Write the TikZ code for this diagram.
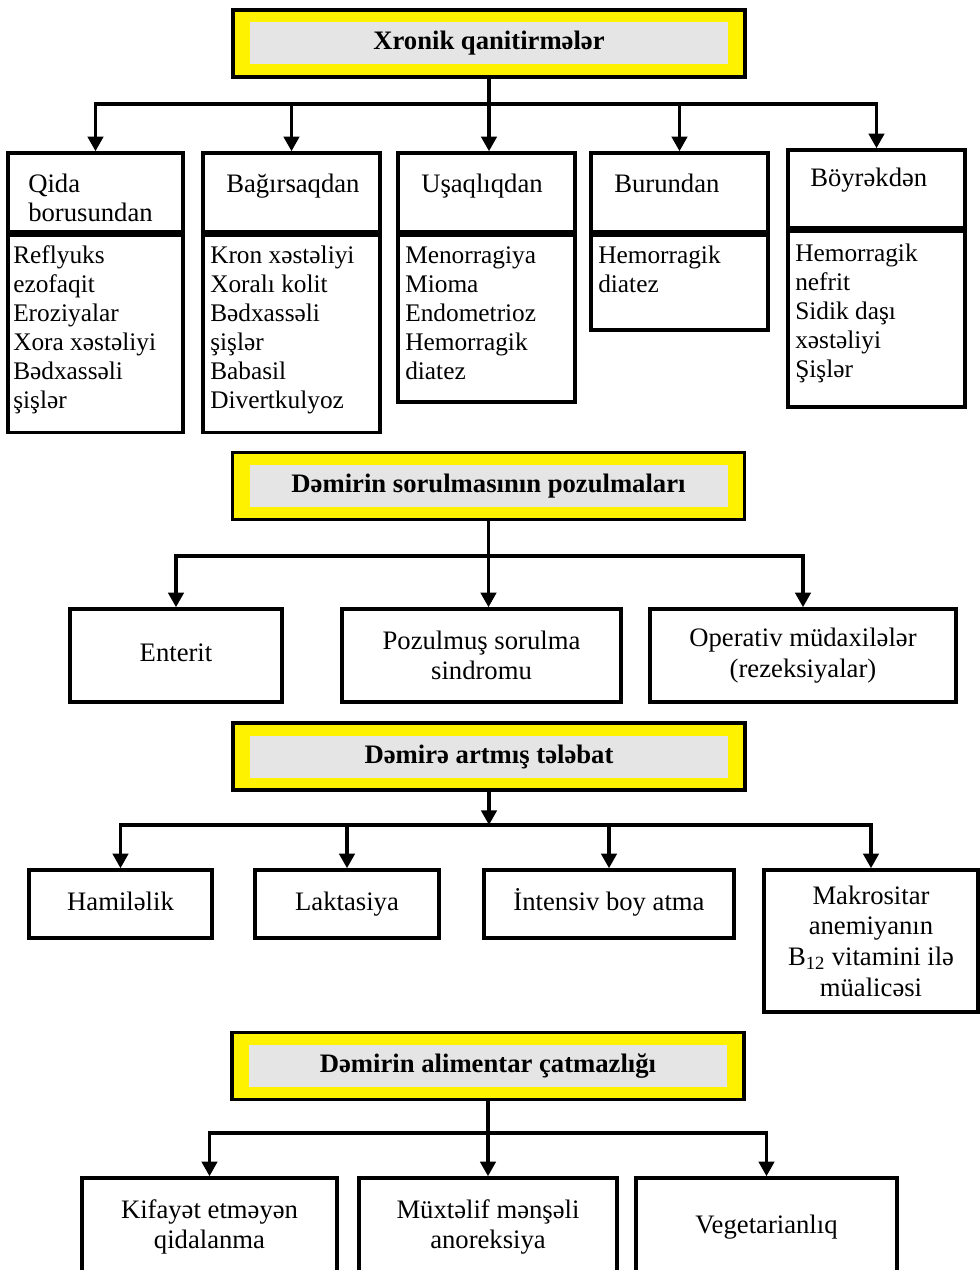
\documentclass[tikz,border=0pt]{standalone}
\usepackage{fontspec}
\setmainfont{Liberation Serif}
\usetikzlibrary{arrows.meta}
\newdimen\px \px=0.75pt
\newcommand{\headfont}{\fontsize{20}{21.75}\selectfont}
\newcommand{\listfont}{\fontsize{19}{21.75}\selectfont}
\newcommand{\boxfont}{\fontsize{20}{23}\selectfont}

\begin{document}
\begin{tikzpicture}[x=0.75pt, y=-0.75pt,
		frame_style/.style={draw=black, line width=3.5\px, fill=yellow, minimum width=512\px, minimum height=67\px, inner sep=0pt},
		title_style/.style={fill=black!10, minimum width=478\px, minimum height=42\px, inner sep=0pt, font=\boxfont\bfseries},
		box_style/.style={draw=black, line width=3.5\px, inner sep=0pt, align=center, font=\boxfont},
		head_style/.style={anchor=north west, inner sep=0pt, align=left, font=\headfont},
		list_style/.style={anchor=north west, inner sep=0pt, align=left, font=\listfont},
		edge_style/.style={draw=black, line width=3.5\px, line cap=rect},
		arrow_style/.style={draw=black, line width=3.5\px, -{Triangle[length=11pt, width=11.5pt]}}]

		\clip (0,0) rectangle (980,1270);

		% Xronik qanitirmeler
		\node[frame_style] (h1) at (489,43.5) {};
		\node[title_style] (t1) at (h1) {Xronik qanitirmələr};

		\node[box_style, minimum width=175\px, minimum height=79\px] (c1h) at (95.5,192.5) {};
		\node[box_style, minimum width=175\px, minimum height=197\px] (c1l) at (95.5,334) {};
		\node[box_style, minimum width=177\px, minimum height=79\px] (c2h) at (291.5,192.5) {};
		\node[box_style, minimum width=177\px, minimum height=197\px] (c2l) at (291.5,334) {};
		\node[box_style, minimum width=177\px, minimum height=79\px] (c3h) at (486.5,192.5) {};
		\node[box_style, minimum width=177\px, minimum height=166.5\px] (c3l) at (486.5,318.75) {};
		\node[box_style, minimum width=177\px, minimum height=79\px] (c4h) at (679.5,192.5) {};
		\node[box_style, minimum width=177\px, minimum height=94.5\px] (c4l) at (679.5,282.75) {};
		\node[box_style, minimum width=177\px, minimum height=78\px] (c5h) at (876.5,189) {};
		\node[box_style, minimum width=177\px, minimum height=175.5\px] (c5l) at (876.5,319.25) {};

		\node[head_style] (q1) at (28,171.5) {\strut Qida\\borusundan};
		\node[head_style] (q2) at (226,171.5) {\strut Bağırsaqdan};
		\node[head_style] (q3) at (421,171.5) {\strut Uşaqlıqdan};
		\node[head_style] (q4) at (614,171.5) {\strut Burundan};
		\node[head_style] (q5) at (810,165.5) {\strut Böyrəkdən};

		\node[list_style] (r1) at (13,243) {\strut Reflyuks\\ezofaqit\\Eroziyalar\\Xora xəstəliyi\\Bədxassəli\\şişlər};
		\node[list_style] (r2) at (210,243) {\strut Kron xəstəliyi\\Xoralı kolit\\Bədxassəli\\şişlər\\Babasil\\Divertkulyoz};
		\node[list_style] (r3) at (405,243) {\strut Menorragiya\\Mioma\\Endometrioz\\Hemorragik\\diatez};
		\node[list_style] (r4) at (598,243) {\strut Hemorragik\\diatez};
		\node[list_style] (r5) at (795,241) {\strut Hemorragik\\nefrit\\Sidik daşı\\xəstəliyi\\Şişlər};

		\coordinate (j1) at (489,104);
		\draw[edge_style] (h1.south) -- (j1);
		\draw[edge_style] (c1h.north |- j1) -- (c5h.north |- j1);
		\draw[arrow_style] (c1h.north |- j1) -- (c1h.north);
		\draw[arrow_style] (c2h.north |- j1) -- (c2h.north);
		\draw[arrow_style] (j1) -- (j1 |- c3h.north);
		\draw[arrow_style] (c4h.north |- j1) -- (c4h.north);
		\draw[arrow_style] (c5h.north |- j1) -- (c5h.north);

		% Demirin sorulmasinin pozulmalari
		\node[frame_style] (h2) at (488.5,486) {};
		\node[title_style] (t2) at (h2) {Dəmirin sorulmasının pozulmaları};

		\node[box_style, minimum width=212\px, minimum height=93\px] (e1) at (176,655.5) {\strut Enterit};
		\node[box_style, minimum width=279\px, minimum height=93\px] (e2) at (481.5,655.5) {Pozulmuş sorulma\\sindromu};
		\node[box_style, minimum width=306\px, minimum height=93\px] (e3) at (803,655.5) {Operativ müdaxilələr\\(rezeksiyalar)};

		\coordinate (j2) at (488.5,556);
		\draw[edge_style] (e1.north |- j2) -- (e3.north |- j2);
		\draw[arrow_style] (h2.south) -- (h2.south |- e2.north);
		\draw[arrow_style] (e1.north |- j2) -- (e1.north);
		\draw[arrow_style] (e3.north |- j2) -- (e3.north);

		% Demire artmis telebat
		\node[frame_style] (h3) at (489,756.5) {};
		\node[title_style] (t3) at (h3) {Dəmirə artmış tələbat};

		\node[box_style, minimum width=183\px, minimum height=68\px] (d1) at (120.5,904) {\strut Hamiləlik};
		\node[box_style, minimum width=184\px, minimum height=68\px] (d2) at (347,904) {\strut Laktasiya};
		\node[box_style, minimum width=250\px, minimum height=68\px] (d3) at (609,904) {\strut İntensiv boy atma};
		\node[box_style, minimum width=214\px, minimum height=142\px] (d4) at (871,941) {Makrositar\\anemiyanın\\B\textsubscript{12} vitamini ilə\\müalicəsi};

		\coordinate (j3) at (489,825);
		\draw[arrow_style] (h3.south) -- (j3);
		\draw[edge_style] (d1.north |- j3) -- (d4.north |- j3);
		\draw[arrow_style] (d1.north |- j3) -- (d1.north);
		\draw[arrow_style] (d2.north |- j3) -- (d2.north);
		\draw[arrow_style] (d3.north |- j3) -- (d3.north);
		\draw[arrow_style] (d4.north |- j3) -- (d4.north);

		% Demirin alimentar catmazligi
		\node[frame_style] (h4) at (488,1066) {};
		\node[title_style] (t4) at (h4) {Dəmirin alimentar çatmazlığı};

		\node[box_style, minimum width=255\px, minimum height=98\px] (k1) at (209.5,1227) {Kifayət etməyən\\qidalanma};
		\node[box_style, minimum width=258\px, minimum height=98\px] (k2) at (488,1227) {Müxtəlif mənşəli\\anoreksiya};
		\node[box_style, minimum width=261\px, minimum height=98\px] (k3) at (766.5,1227) {\strut Vegetarianlıq};

		\coordinate (j4) at (488,1133);
		\draw[edge_style] (h4.south) -- (j4);
		\draw[edge_style] (k1.north |- j4) -- (k3.north |- j4);
		\draw[arrow_style] (k1.north |- j4) -- (k1.north);
		\draw[arrow_style] (j4) -- (k2.north);
		\draw[arrow_style] (k3.north |- j4) -- (k3.north);
\end{tikzpicture}
\end{document}
